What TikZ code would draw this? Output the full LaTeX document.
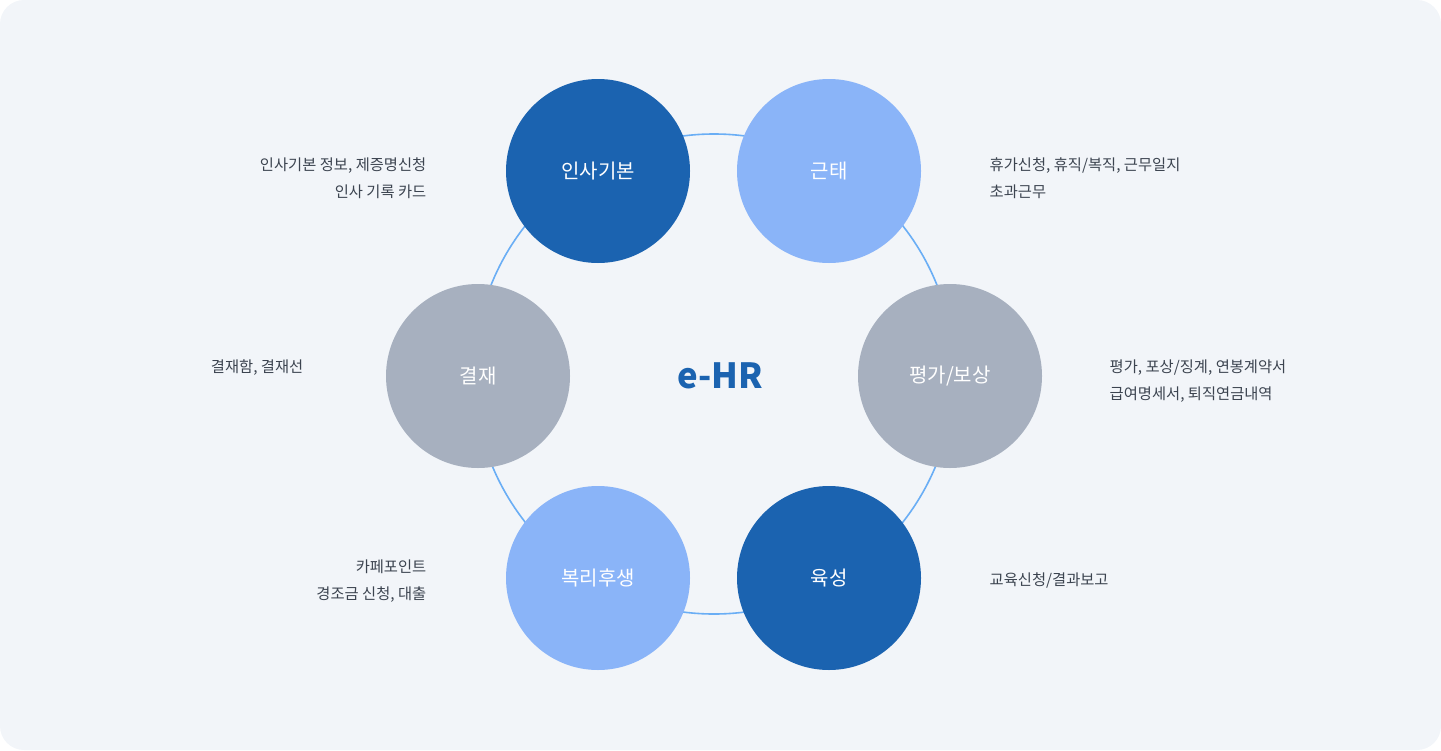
\documentclass[tikz,border=0pt]{standalone}
\usepackage{fontspec}
\setmainfont{Noto Sans CJK KR}
\definecolor{cdark}{RGB}{27,99,176}
\definecolor{clight}{RGB}{138,180,248}
\definecolor{cgrey}{RGB}{167,176,191}
\definecolor{cbg}{RGB}{242,245,249}
\definecolor{cring}{RGB}{106,174,245}
\definecolor{ctext}{RGB}{60,68,80}
\begin{document}
\begin{tikzpicture}[x=0.75pt,y=-0.75pt,
  bub/.style={circle,minimum size=138pt,inner sep=0pt,text=white,font=\fontsize{15}{18}\selectfont},
  dark/.style={bub,fill=cdark},
  light/.style={bub,fill=clight},
  grey/.style={bub,fill=cgrey},
  side/.style={font=\fontsize{11.5}{20}\selectfont,text=ctext,align=left}]
\useasboundingbox (0,0) rectangle (1441,750);
\fill[cbg,rounded corners=18pt] (0,0) rectangle (1441,750);
\node[circle,draw=cring,line width=1.2pt,minimum size=360pt] (ring) at (714,374) {};
\node[font=\fontsize{26}{30}\selectfont\bfseries,text=cdark] (c) at (720,376) {e-HR};
\node[dark] (a) at (598,171) {인사기본};
\node[light] (b) at (829,171) {근태};
\node[grey] (d) at (478,376) {결재};
\node[grey] (e) at (950,376) {평가/보상};
\node[light] (f) at (598,578) {복리후생};
\node[dark] (g) at (829,578) {육성};
\node[side,align=right,anchor=east] (ta) at (431,178) {인사기본 정보, 제증명신청\\인사 기록 카드};
\node[side,anchor=west] (tb) at (985,178) {휴가신청, 휴직/복직, 근무일지\\초과근무};
\node[side,align=right,anchor=east] (td) at (308,368) {결재함, 결재선};
\node[side,anchor=west] (te) at (1105,381) {평가, 포상/징계, 연봉계약서\\급여명세서, 퇴직연금내역};
\node[side,align=right,anchor=east] (tf) at (431,581) {카페포인트\\경조금 신청, 대출};
\node[side,anchor=west] (tg) at (985,580) {교육신청/결과보고};
\end{tikzpicture}
\end{document}
